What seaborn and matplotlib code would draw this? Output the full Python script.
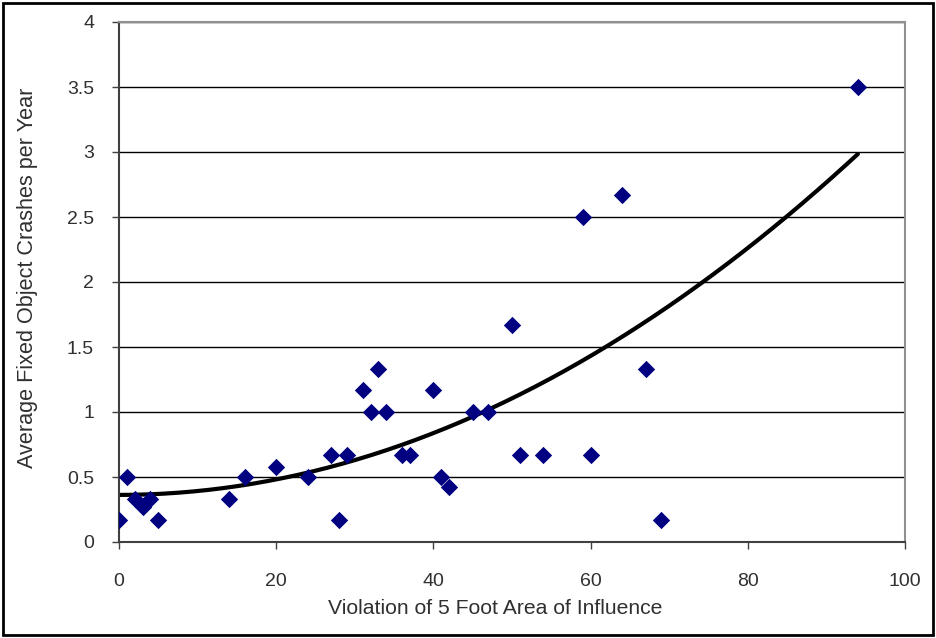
import numpy as np
import pandas as pd
import matplotlib
matplotlib.use("Agg")
import matplotlib.pyplot as plt
import seaborn as sns
from matplotlib.patches import Rectangle

violation = [0, 1, 2, 3, 4, 5, 14, 16, 20, 24, 27, 28, 29, 31, 32, 33, 34, 36, 37,
             40, 41, 42, 45, 47, 50, 51, 54, 59, 60, 64, 67, 69, 94]
crashes = [0.17, 0.5, 0.33, 0.27, 0.33, 0.17, 0.33, 0.5, 0.58, 0.5, 0.67, 0.17, 0.67,
           1.17, 1.0, 1.33, 1.0, 0.67, 0.67, 1.17, 0.5, 0.42, 1.0, 1.0, 1.67, 0.67,
           0.67, 2.5, 0.67, 2.67, 1.33, 0.17, 3.5]
x_ticks = [0, 20, 40, 60, 80, 100]
y_ticks = [0, 0.5, 1, 1.5, 2, 2.5, 3, 3.5, 4]
y_ticklabels = ["0", "0.5", "1", "1.5", "2", "2.5", "3", "3.5", "4"]

df = pd.DataFrame({"x": violation, "y": crashes})

# polynomial (order 2) trendline
coef = np.polyfit(df["x"], df["y"], 2)
xs = np.linspace(min(violation), max(violation), 200)
trend = pd.DataFrame({"x": xs, "y": np.polyval(coef, xs)})

sns.set_style("white")
plt.rcParams["font.family"] = ["Liberation Sans", "DejaVu Sans"]

fig = plt.figure(figsize=(9.36, 6.38), dpi=100)
ax = fig.add_axes([119 / 936, 1 - 542 / 638, (905 - 119) / 936, (542 - 22) / 638])

sns.lineplot(data=trend, x="x", y="y", ax=ax, color="black", linewidth=3, zorder=2)
sns.scatterplot(data=df, x="x", y="y", ax=ax, marker="D", s=78, color="#000080",
                edgecolor="#000080", linewidth=0, zorder=3)

ax.set_xlim(0, 100)
ax.set_ylim(0, 4)
ax.set_xticks(x_ticks)
ax.set_yticks(y_ticks)
ax.set_yticklabels(y_ticklabels)
ax.yaxis.grid(True, color="black", linewidth=1)
ax.xaxis.grid(False)
ax.set_axisbelow(True)

for side in ["left", "bottom"]:
    ax.spines[side].set_color("#404040")
    ax.spines[side].set_linewidth(1.5)
for side in ["top", "right"]:
    ax.spines[side].set_color("#909090")
    ax.spines[side].set_linewidth(1.5)

ax.tick_params(axis="both", direction="out", length=5, width=1, color="#404040",
               labelsize=14, labelcolor="#303030", bottom=True, left=True)
ax.tick_params(axis="x", pad=17)
ax.tick_params(axis="y", pad=13)
ax.set_xlabel("Violation of 5 Foot Area of Influence", fontsize=15.2, color="#303030", va="center")
ax.set_ylabel("Average Fixed Object Crashes per Year", fontsize=15.6, color="#303030", va="center")
ax.xaxis.set_label_coords((495 - 119) / 786, (542 - 608) / 520)
ax.yaxis.set_label_coords((28 - 119) / 786, (542 - 278) / 520)

fig.patches.append(Rectangle((3 / 936, 3 / 638), 930 / 936, 632 / 638, transform=fig.transFigure,
                             fill=False, edgecolor="black", linewidth=2))

fig.savefig("out.png", dpi=100)
